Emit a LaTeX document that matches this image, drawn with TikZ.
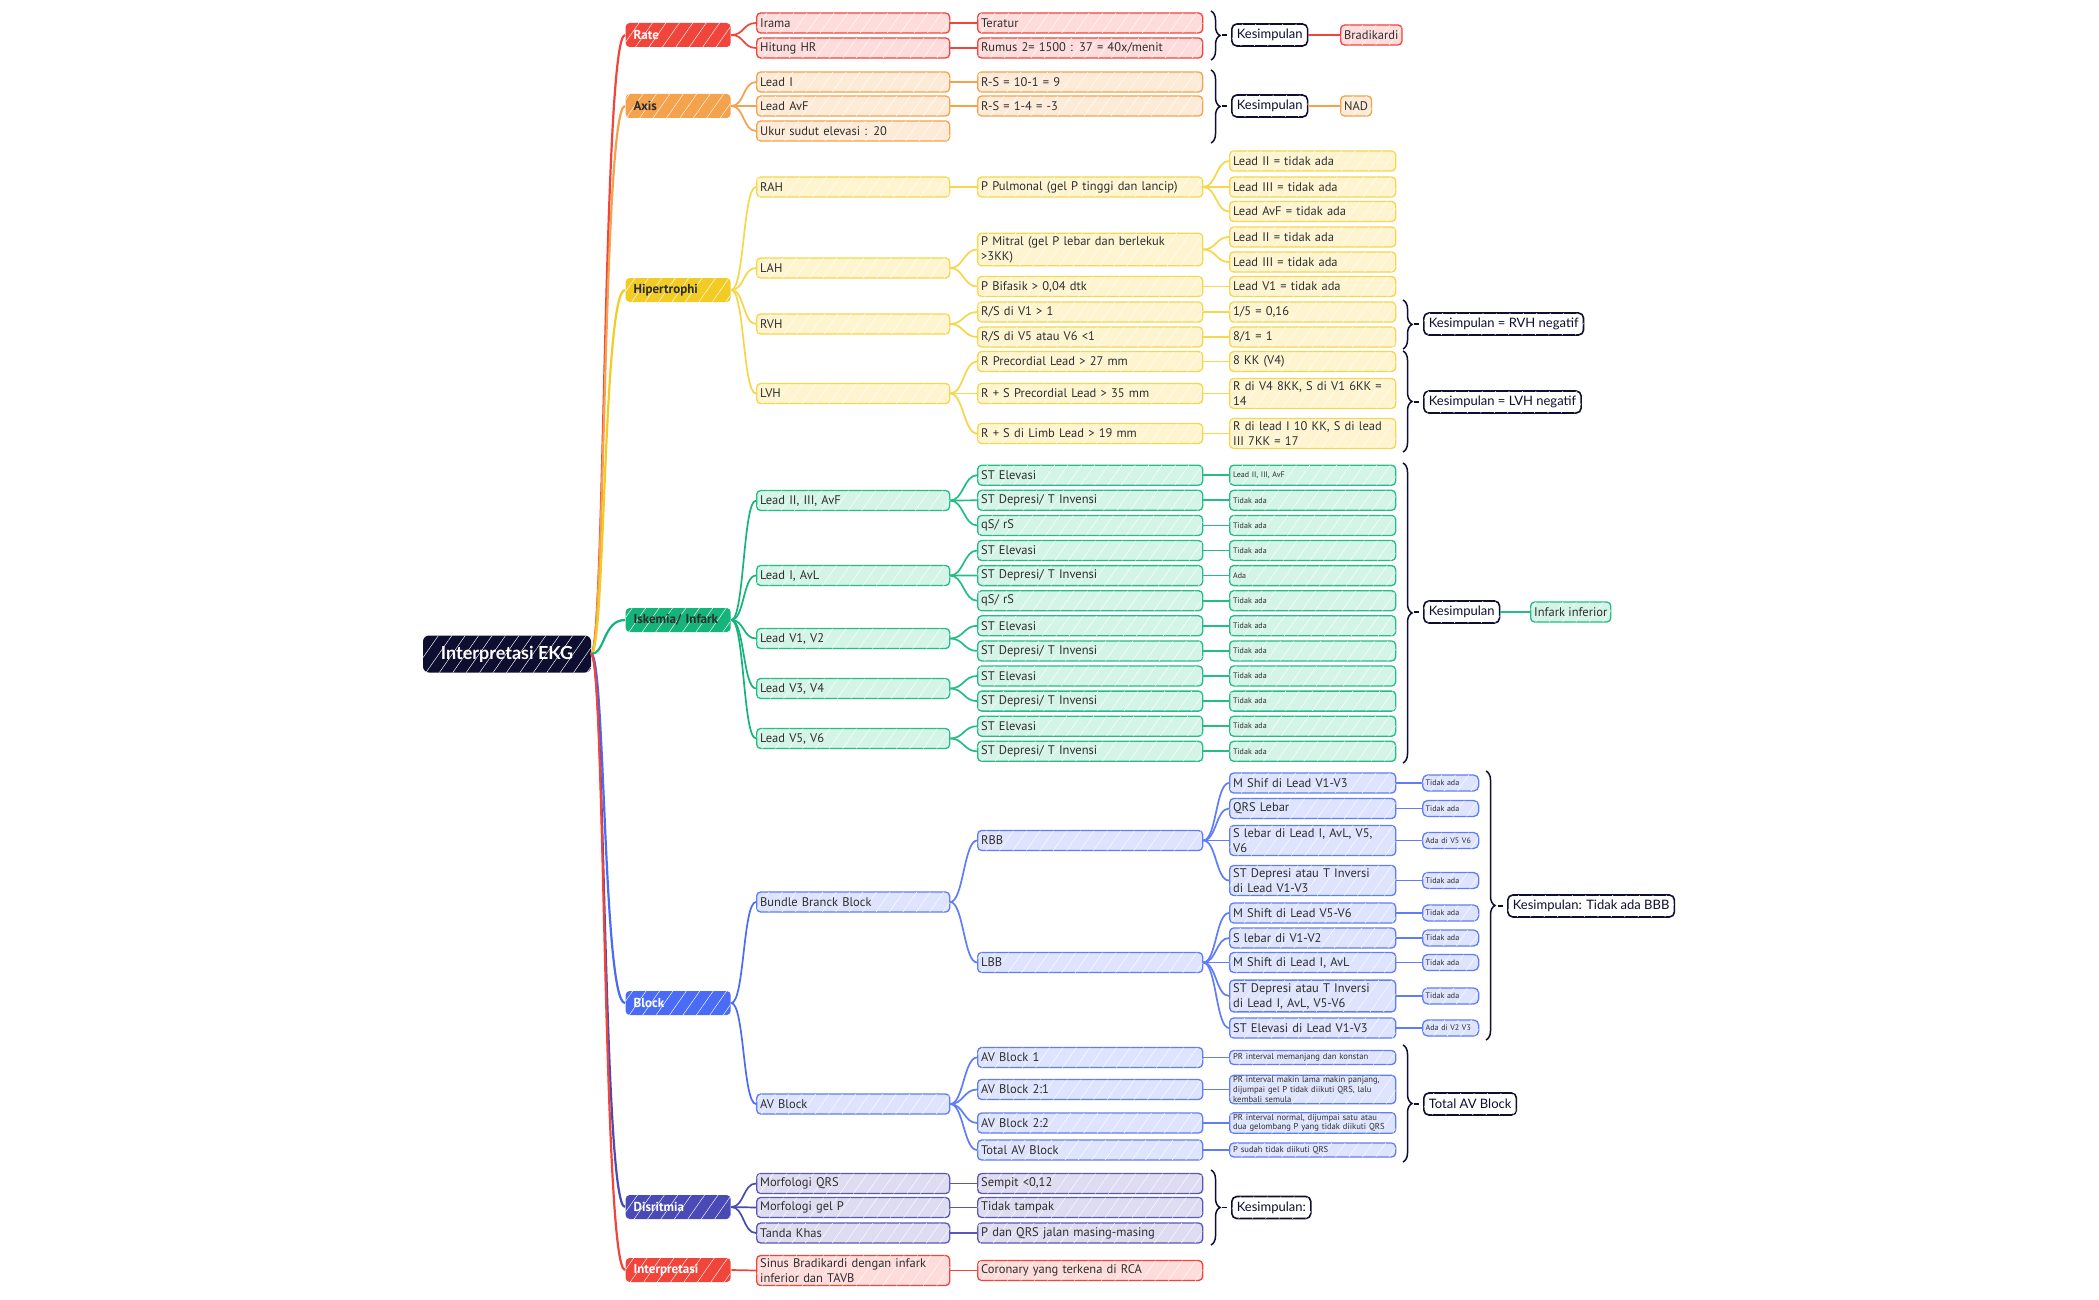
\documentclass[tikz,border=0pt]{standalone}
\usepackage{fontspec}
\setmainfont{PT Sans}
\newfontfamily\conclfont{Lato}
\usepackage{tikz}
\usetikzlibrary{decorations.pathreplacing, patterns.meta}

\definecolor{rootc}{HTML}{0E0E30}
\definecolor{txtc}{HTML}{2E2E2E}
\definecolor{redc}{HTML}{F1443B}
\definecolor{redl}{HTML}{FDDCDB}
\definecolor{orac}{HTML}{F4A24B}
\definecolor{oral}{HTML}{FDEBD8}
\definecolor{yelc}{HTML}{F2CC24}
\definecolor{yelb}{HTML}{F6D64A}
\definecolor{yell}{HTML}{FEF5D0}
\definecolor{grnc}{HTML}{14B47B}
\definecolor{grnb}{HTML}{22BE86}
\definecolor{grnl}{HTML}{D3F4E7}
\definecolor{bluc}{HTML}{4A6BF6}
\definecolor{blub}{HTML}{5F7DF6}
\definecolor{blul}{HTML}{DEE4FE}
\definecolor{indc}{HTML}{4A4AB7}
\definecolor{indb}{HTML}{5956BC}
\definecolor{indl}{HTML}{DDDCF1}

\newcommand\fsmain{\fontsize{12.5}{15}\selectfont}
\newcommand\fscat{\fontsize{13}{15}\selectfont\bfseries}
\newcommand\fsroot{\conclfont\fontsize{18}{20}\selectfont\bfseries}
\newcommand\fssmall{\fontsize{8}{9.5}\selectfont}
\newcommand\fstiny{\fontsize{8.6}{9.6}\selectfont}
\newcommand\fsfive{\fontsize{8}{9.5}\selectfont}
\newcommand\fsconcl{\conclfont\fontsize{13}{15}\selectfont}

\begin{document}
\begin{tikzpicture}[
    x=1pt, y=-1pt,
    hatch/.style={postaction={pattern={Lines[angle=55,distance=11pt,line width=0.45pt]}, pattern color=white!80}},
    box/.style={rounded corners=4pt, line width=1.3pt, anchor=west, align=left,
                inner xsep=3.5pt, inner ysep=3pt, minimum height=20pt, text=txtc, font=\fsmain, hatch},
    rootbox/.style={rounded corners=6pt, fill=rootc, text=white, font=\fsroot,
                minimum width=168pt, minimum height=37pt, hatch},
    cat/.style={box, draw=none, text width=89pt, inner xsep=8pt, minimum height=24pt, font=\fscat},
    lvtwo/.style={box, text width=186pt},
    lvthree/.style={box, text width=218pt},
    lvfour/.style={box, text width=159pt},
    note/.style={box, text width=159pt, font=\fssmall},
    avnote/.style={box, text width=159pt, font=\fstiny, minimum height=14pt, inner ysep=1.5pt},
    lvfive/.style={box, text width=50pt, inner xsep=3pt, font=\fsfive, minimum height=16pt, inner ysep=1.5pt, rounded corners=5pt},
    concl/.style={box, draw=rootc, fill=white, text=rootc, font=\fsconcl, line width=1.6pt,
                inner xsep=5pt, minimum height=22pt, rounded corners=5pt},
    redset/.style={draw=redc, fill=redl},
    oraset/.style={draw=orac, fill=oral},
    yelset/.style={draw=yelb, fill=yell},
    grnset/.style={draw=grnb, fill=grnl},
    bluset/.style={draw=blub, fill=blul},
    indset/.style={draw=indb, fill=indl},
    link/.style={line width=1.7pt, to path={.. controls +(13,0) and +(-13,0) .. (\tikztotarget)}},
    trunk/.style={line width=2.2pt, to path={.. controls +(14,0) and +(-22,0) .. (\tikztotarget)}},
    brc/.style={draw=rootc, line width=1.5pt, decorate, decoration={brace, amplitude=9pt}},
    tick/.style={draw=rootc, line width=1.5pt}
  ]

  \fill[white] (0,0) rectangle (2099,1300);
  \useasboundingbox (0,0) rectangle (2099,1300);

  % root and main branches
  \node[rootbox] (ekg) at (507,654) {Interpretasi EKG};
  \node[cat, fill=redc, text=white] (rate) at (625,35) {Rate};
  \node[cat, fill=orac] (axis) at (625,106) {Axis};
  \node[cat, fill=yelc] (hiper) at (625,290) {Hipertrophi};
  \node[cat, fill=grnc] (iskem) at (625,620) {Iskemia/ Infark};
  \node[cat, fill=bluc, text=white] (block) at (625,1003) {Block};
  \node[cat, fill=indc, text=white] (disr) at (625,1207) {Disritmia};
  \node[cat, fill=redc, text=white] (interp) at (625,1270) {Interpretasi};

  \draw[trunk, redc] (ekg.east) to (rate.west);
  \draw[trunk, orac] (ekg.east) to (axis.west);
  \draw[trunk, yelc] (ekg.east) to (hiper.west);
  \draw[trunk, grnc] (ekg.east) to (iskem.west);
  \draw[trunk, bluc] (ekg.east) to (block.west);
  \draw[trunk, indc] (ekg.east) to (disr.west);
  \draw[trunk, redc] (ekg.east) to (interp.west);

  % Rate
  \node[lvtwo, redset] (irama) at (756,23) {Irama};
  \node[lvtwo, redset] (hr) at (756,48) {Hitung HR};
  \node[lvthree, redset] (teratur) at (977,23) {Teratur};
  \node[lvthree, redset] (rumus) at (977,48) {Rumus 2= 1500 : 37 = 40x/menit};
  \node[concl] (kesrate) at (1231,35) {Kesimpulan};
  \node[box, redset] (bradi) at (1340,35) {Bradikardi};

  \draw[link, redc] (rate.east) to (irama.west);
  \draw[link, redc] (rate.east) to (hr.west);
  \draw[link, redc] (irama.east) to (teratur.west);
  \draw[link, redc] (hr.east) to (rumus.west);
  \draw[link, redc] (kesrate.east) to (bradi.west);
  \draw[brc] (1211,11) -- (1211,60);
  \draw[tick] ([xshift=-9]kesrate.west) -- ([xshift=-4]kesrate.west);

  % Axis
  \node[lvtwo, oraset] (leadi) at (756,82) {Lead I};
  \node[lvtwo, oraset] (leadavf) at (756,106) {Lead AvF};
  \node[lvtwo, oraset] (sudut) at (756,131) {Ukur sudut elevasi : 20};
  \node[lvthree, oraset] (rsone) at (977,82) {R-S = 10-1 = 9};
  \node[lvthree, oraset] (rstwo) at (977,106) {R-S = 1-4 = -3};
  \node[concl] (kesaxis) at (1231,106) {Kesimpulan};
  \node[box, oraset] (nad) at (1340,106) {NAD};

  \draw[link, orac] (axis.east) to (leadi.west);
  \draw[link, orac] (axis.east) to (leadavf.west);
  \draw[link, orac] (axis.east) to (sudut.west);
  \draw[link, orac] (leadi.east) to (rsone.west);
  \draw[link, orac] (leadavf.east) to (rstwo.west);
  \draw[link, orac] (kesaxis.east) to (nad.west);
  \draw[brc] (1211,70) -- (1211,143);
  \draw[tick] ([xshift=-9]kesaxis.west) -- ([xshift=-4]kesaxis.west);

  % Hipertrophi
  \node[lvtwo, yelset] (rah) at (756,187) {RAH};
  \node[lvtwo, yelset] (lah) at (756,268) {LAH};
  \node[lvtwo, yelset] (rvh) at (756,324) {RVH};
  \node[lvtwo, yelset] (lvh) at (756,393.5) {LVH};
  \node[lvthree, yelset] (ppul) at (977,187) {P Pulmonal (gel P tinggi dan lancip)};
  \node[lvthree, yelset] (pmit) at (977,249.5) {P Mitral (gel P lebar dan berlekuk\\>3KK)};
  \node[lvthree, yelset] (pbif) at (977,286.5) {P Bifasik > 0,04 dtk};
  \node[lvthree, yelset] (rsvone) at (977,312) {R/S di V1 > 1};
  \node[lvthree, yelset] (rsvfive) at (977,337) {R/S di V5 atau V6 <1};
  \node[lvthree, yelset] (rprec) at (977,361.5) {R Precordial Lead > 27 mm};
  \node[lvthree, yelset] (rsprec) at (977,393.5) {R + S Precordial Lead > 35 mm};
  \node[lvthree, yelset] (rslimb) at (977,433.5) {R + S di Limb Lead > 19 mm};
  \node[lvfour, yelset] (hone) at (1229,161) {Lead II = tidak ada};
  \node[lvfour, yelset] (htwo) at (1229,187) {Lead III = tidak ada};
  \node[lvfour, yelset] (hthree) at (1229,211.5) {Lead AvF = tidak ada};
  \node[lvfour, yelset] (hfour) at (1229,237) {Lead II = tidak ada};
  \node[lvfour, yelset] (hfive) at (1229,262) {Lead III = tidak ada};
  \node[lvfour, yelset] (hsix) at (1229,286.5) {Lead V1 = tidak ada};
  \node[lvfour, yelset] (hseven) at (1229,312) {1/5 = 0,16};
  \node[lvfour, yelset] (height) at (1229,337) {8/1 = 1};
  \node[lvfour, yelset] (hnine) at (1229,361.5) {8 KK (V4)};
  \node[lvfour, yelset] (hten) at (1229,393.5) {R di V4 8KK, S di V1 6KK =\\14};
  \node[lvfour, yelset] (heleven) at (1229,433.5) {R di lead I 10 KK, S di lead\\III 7KK = 17};
  \node[concl] (kesrvh) at (1423,324) {Kesimpulan = RVH negatif};
  \node[concl] (keslvh) at (1423,402) {Kesimpulan = LVH negatif};

  \draw[link, yelb] (hiper.east) to (rah.west);
  \draw[link, yelb] (hiper.east) to (lah.west);
  \draw[link, yelb] (hiper.east) to (rvh.west);
  \draw[link, yelb] (hiper.east) to (lvh.west);
  \draw[link, yelb] (rah.east) to (ppul.west);
  \draw[link, yelb] (lah.east) to (pmit.west);
  \draw[link, yelb] (lah.east) to (pbif.west);
  \draw[link, yelb] (rvh.east) to (rsvone.west);
  \draw[link, yelb] (rvh.east) to (rsvfive.west);
  \draw[link, yelb] (lvh.east) to (rprec.west);
  \draw[link, yelb] (lvh.east) to (rsprec.west);
  \draw[link, yelb] (lvh.east) to (rslimb.west);
  \draw[link, yelb] (ppul.east) to (hone.west);
  \draw[link, yelb] (ppul.east) to (htwo.west);
  \draw[link, yelb] (ppul.east) to (hthree.west);
  \draw[link, yelb] (pmit.east) to (hfour.west);
  \draw[link, yelb] (pmit.east) to (hfive.west);
  \draw[link, yelb] (pbif.east) to (hsix.west);
  \draw[link, yelb] (rsvone.east) to (hseven.west);
  \draw[link, yelb] (rsvfive.east) to (height.west);
  \draw[link, yelb] (rprec.east) to (hnine.west);
  \draw[link, yelb] (rsprec.east) to (hten.west);
  \draw[link, yelb] (rslimb.east) to (heleven.west);
  \draw[brc] (1403,300) -- (1403,349);
  \draw[tick] ([xshift=-9]kesrvh.west) -- ([xshift=-4]kesrvh.west);
  \draw[brc] (1403,351) -- (1403,452);
  \draw[tick] ([xshift=-9]keslvh.west) -- ([xshift=-4]keslvh.west);

  % Iskemia / Infark
  \node[lvtwo, grnset] (inf) at (756,500.5) {Lead II, III, AvF};
  \node[lvtwo, grnset] (lat) at (756,575.5) {Lead I, AvL};
  \node[lvtwo, grnset] (sep) at (756,638.5) {Lead V1, V2};
  \node[lvtwo, grnset] (ant) at (756,688.5) {Lead V3, V4};
  \node[lvtwo, grnset] (antlat) at (756,738.5) {Lead V5, V6};
  \node[lvthree, grnset] (stone) at (977,475.2) {ST Elevasi};
  \node[lvthree, grnset] (sttwo) at (977,500.3) {ST Depresi/ T Invensi};
  \node[lvthree, grnset] (stthree) at (977,525.4) {qS/ rS};
  \node[lvthree, grnset] (stfour) at (977,550.5) {ST Elevasi};
  \node[lvthree, grnset] (stfive) at (977,575.6) {ST Depresi/ T Invensi};
  \node[lvthree, grnset] (stsix) at (977,600.7) {qS/ rS};
  \node[lvthree, grnset] (stseven) at (977,625.8) {ST Elevasi};
  \node[lvthree, grnset] (steight) at (977,650.9) {ST Depresi/ T Invensi};
  \node[lvthree, grnset] (stnine) at (977,676) {ST Elevasi};
  \node[lvthree, grnset] (stten) at (977,701.1) {ST Depresi/ T Invensi};
  \node[lvthree, grnset] (steleven) at (977,726.2) {ST Elevasi};
  \node[lvthree, grnset] (sttwelve) at (977,751.3) {ST Depresi/ T Invensi};
  \node[note, grnset] (resone) at (1229,475.2) {Lead II, III, AvF};
  \node[note, grnset] (restwo) at (1229,500.3) {Tidak ada};
  \node[note, grnset] (resthree) at (1229,525.4) {Tidak ada};
  \node[note, grnset] (resfour) at (1229,550.5) {Tidak ada};
  \node[note, grnset] (resfive) at (1229,575.6) {Ada};
  \node[note, grnset] (ressix) at (1229,600.7) {Tidak ada};
  \node[note, grnset] (resseven) at (1229,625.8) {Tidak ada};
  \node[note, grnset] (reseight) at (1229,650.9) {Tidak ada};
  \node[note, grnset] (resnine) at (1229,676) {Tidak ada};
  \node[note, grnset] (resten) at (1229,701.1) {Tidak ada};
  \node[note, grnset] (reseleven) at (1229,726.2) {Tidak ada};
  \node[note, grnset] (restwelve) at (1229,751.3) {Tidak ada};
  \node[concl] (kesisk) at (1423,612) {Kesimpulan};
  \node[box, grnset] (infark) at (1530,612) {Infark inferior};

  \draw[link, grnc] (iskem.east) to (inf.west);
  \draw[link, grnc] (iskem.east) to (lat.west);
  \draw[link, grnc] (iskem.east) to (sep.west);
  \draw[link, grnc] (iskem.east) to (ant.west);
  \draw[link, grnc] (iskem.east) to (antlat.west);
  \draw[link, grnb] (inf.east) to (stone.west);
  \draw[link, grnb] (inf.east) to (sttwo.west);
  \draw[link, grnb] (inf.east) to (stthree.west);
  \draw[link, grnb] (lat.east) to (stfour.west);
  \draw[link, grnb] (lat.east) to (stfive.west);
  \draw[link, grnb] (lat.east) to (stsix.west);
  \draw[link, grnb] (sep.east) to (stseven.west);
  \draw[link, grnb] (sep.east) to (steight.west);
  \draw[link, grnb] (ant.east) to (stnine.west);
  \draw[link, grnb] (ant.east) to (stten.west);
  \draw[link, grnb] (antlat.east) to (steleven.west);
  \draw[link, grnb] (antlat.east) to (sttwelve.west);
  \draw[link, grnb] (stone.east) to (resone.west);
  \draw[link, grnb] (sttwo.east) to (restwo.west);
  \draw[link, grnb] (stthree.east) to (resthree.west);
  \draw[link, grnb] (stfour.east) to (resfour.west);
  \draw[link, grnb] (stfive.east) to (resfive.west);
  \draw[link, grnb] (stsix.east) to (ressix.west);
  \draw[link, grnb] (stseven.east) to (resseven.west);
  \draw[link, grnb] (steight.east) to (reseight.west);
  \draw[link, grnb] (stnine.east) to (resnine.west);
  \draw[link, grnb] (stten.east) to (resten.west);
  \draw[link, grnb] (steleven.east) to (reseleven.west);
  \draw[link, grnb] (sttwelve.east) to (restwelve.west);
  \draw[link, grnb] (kesisk.east) to (infark.west);
  \draw[brc] (1403,463) -- (1403,763);
  \draw[tick] ([xshift=-9]kesisk.west) -- ([xshift=-4]kesisk.west);

  % Block
  \node[lvtwo, bluset] (bbb) at (756,902) {Bundle Branck Block};
  \node[lvtwo, bluset] (avb) at (756,1104) {AV Block};
  \node[lvthree, bluset] (rbb) at (977,840.5) {RBB};
  \node[lvthree, bluset] (lbb) at (977,962.5) {LBB};
  \node[lvthree, bluset] (avone) at (977,1057.5) {AV Block 1};
  \node[lvthree, bluset] (avtwoone) at (977,1089.5) {AV Block 2:1};
  \node[lvthree, bluset] (avtwotwo) at (977,1123) {AV Block 2:2};
  \node[lvthree, bluset] (avtotal) at (977,1150) {Total AV Block};
  \node[lvfour, bluset] (bone) at (1229,783) {M Shif di Lead V1-V3};
  \node[lvfour, bluset] (btwo) at (1229,808.5) {QRS Lebar};
  \node[lvfour, bluset] (bthree) at (1229,840.5) {S lebar di Lead I, AvL, V5,\\V6};
  \node[lvfour, bluset] (bfour) at (1229,880.5) {ST Depresi atau T Inversi\\di Lead V1-V3};
  \node[lvfour, bluset] (bfive) at (1229,913) {M Shift di Lead V5-V6};
  \node[lvfour, bluset] (bsix) at (1229,938) {S lebar di V1-V2};
  \node[lvfour, bluset] (bseven) at (1229,962.5) {M Shift di Lead I, AvL};
  \node[lvfour, bluset] (beight) at (1229,996) {ST Depresi atau T Inversi\\di Lead I, AvL, V5-V6};
  \node[lvfour, bluset] (bnine) at (1229,1028) {ST Elevasi di Lead V1-V3};
  \node[lvfive, bluset] (cone) at (1422,783) {Tidak ada};
  \node[lvfive, bluset] (ctwo) at (1422,808.5) {Tidak ada};
  \node[lvfive, bluset] (cthree) at (1422,840.5) {Ada di V5 V6};
  \node[lvfive, bluset] (cfour) at (1422,880.5) {Tidak ada};
  \node[lvfive, bluset] (cfive) at (1422,913) {Tidak ada};
  \node[lvfive, bluset] (csix) at (1422,938) {Tidak ada};
  \node[lvfive, bluset] (cseven) at (1422,962.5) {Tidak ada};
  \node[lvfive, bluset] (ceight) at (1422,996) {Tidak ada};
  \node[lvfive, bluset] (cnine) at (1422,1028) {Ada di V2 V3};
  \node[avnote, bluset] (aone) at (1229,1057.5) {PR interval memanjang dan konstan};
  \node[avnote, bluset] (atwo) at (1229,1089.5) {PR interval makin lama makin panjang,\\dijumpai gel P tidak diikuti QRS, lalu\\kembali semula};
  \node[avnote, bluset] (athree) at (1229,1123) {PR interval normal, dijumpai satu atau\\dua gelombang P yang tidak diikuti QRS};
  \node[avnote, bluset] (afour) at (1229,1150) {P sudah tidak diikuti QRS};
  \node[concl] (kesbbb) at (1507,906) {Kesimpulan: Tidak ada BBB};
  \node[concl] (kesav) at (1423,1104) {Total AV Block};

  \draw[link, bluc] (block.east) to (bbb.west);
  \draw[link, bluc] (block.east) to (avb.west);
  \draw[link, blub] (bbb.east) to (rbb.west);
  \draw[link, blub] (bbb.east) to (lbb.west);
  \draw[link, blub] (avb.east) to (avone.west);
  \draw[link, blub] (avb.east) to (avtwoone.west);
  \draw[link, blub] (avb.east) to (avtwotwo.west);
  \draw[link, blub] (avb.east) to (avtotal.west);
  \draw[link, blub] (rbb.east) to (bone.west);
  \draw[link, blub] (rbb.east) to (btwo.west);
  \draw[link, blub] (rbb.east) to (bthree.west);
  \draw[link, blub] (rbb.east) to (bfour.west);
  \draw[link, blub] (lbb.east) to (bfive.west);
  \draw[link, blub] (lbb.east) to (bsix.west);
  \draw[link, blub] (lbb.east) to (bseven.west);
  \draw[link, blub] (lbb.east) to (beight.west);
  \draw[link, blub] (lbb.east) to (bnine.west);
  \draw[link, blub] (bone.east) to (cone.west);
  \draw[link, blub] (btwo.east) to (ctwo.west);
  \draw[link, blub] (bthree.east) to (cthree.west);
  \draw[link, blub] (bfour.east) to (cfour.west);
  \draw[link, blub] (bfive.east) to (cfive.west);
  \draw[link, blub] (bsix.east) to (csix.west);
  \draw[link, blub] (bseven.east) to (cseven.west);
  \draw[link, blub] (beight.east) to (ceight.west);
  \draw[link, blub] (bnine.east) to (cnine.west);
  \draw[link, blub] (avone.east) to (aone.west);
  \draw[link, blub] (avtwoone.east) to (atwo.west);
  \draw[link, blub] (avtwotwo.east) to (athree.west);
  \draw[link, blub] (avtotal.east) to (afour.west);
  \draw[brc] (1486,771) -- (1486,1040);
  \draw[tick] ([xshift=-9]kesbbb.west) -- ([xshift=-4]kesbbb.west);
  \draw[brc] (1403,1045) -- (1403,1162);
  \draw[tick] ([xshift=-9]kesav.west) -- ([xshift=-4]kesav.west);

  % Disritmia
  \node[lvtwo, indset] (mqrs) at (756,1183.5) {Morfologi QRS};
  \node[lvtwo, indset] (mgelp) at (756,1207.5) {Morfologi gel P};
  \node[lvtwo, indset] (tkhas) at (756,1233) {Tanda Khas};
  \node[lvthree, indset] (sempit) at (977,1183.5) {Sempit <0,12};
  \node[lvthree, indset] (tampak) at (977,1207.5) {Tidak tampak};
  \node[lvthree, indset] (pqrs) at (977,1233) {P dan QRS jalan masing-masing};
  \node[concl] (kesdis) at (1231,1207.5) {Kesimpulan:};

  \draw[link, indc] (disr.east) to (mqrs.west);
  \draw[link, indc] (disr.east) to (mgelp.west);
  \draw[link, indc] (disr.east) to (tkhas.west);
  \draw[link, indb] (mqrs.east) to (sempit.west);
  \draw[link, indb] (mgelp.east) to (tampak.west);
  \draw[link, indb] (tkhas.east) to (pqrs.west);
  \draw[brc] (1211,1170) -- (1211,1245);
  \draw[tick] ([xshift=-9]kesdis.west) -- ([xshift=-4]kesdis.west);

  % Interpretasi
  \node[lvtwo, redset] (sinus) at (756,1270.5) {Sinus Bradikardi dengan infark\\inferior dan TAVB};
  \node[lvthree, redset] (rca) at (977,1270.5) {Coronary yang terkena di RCA};

  \draw[link, redc] (interp.east) to (sinus.west);
  \draw[link, redc] (sinus.east) to (rca.west);

\end{tikzpicture}
\end{document}
